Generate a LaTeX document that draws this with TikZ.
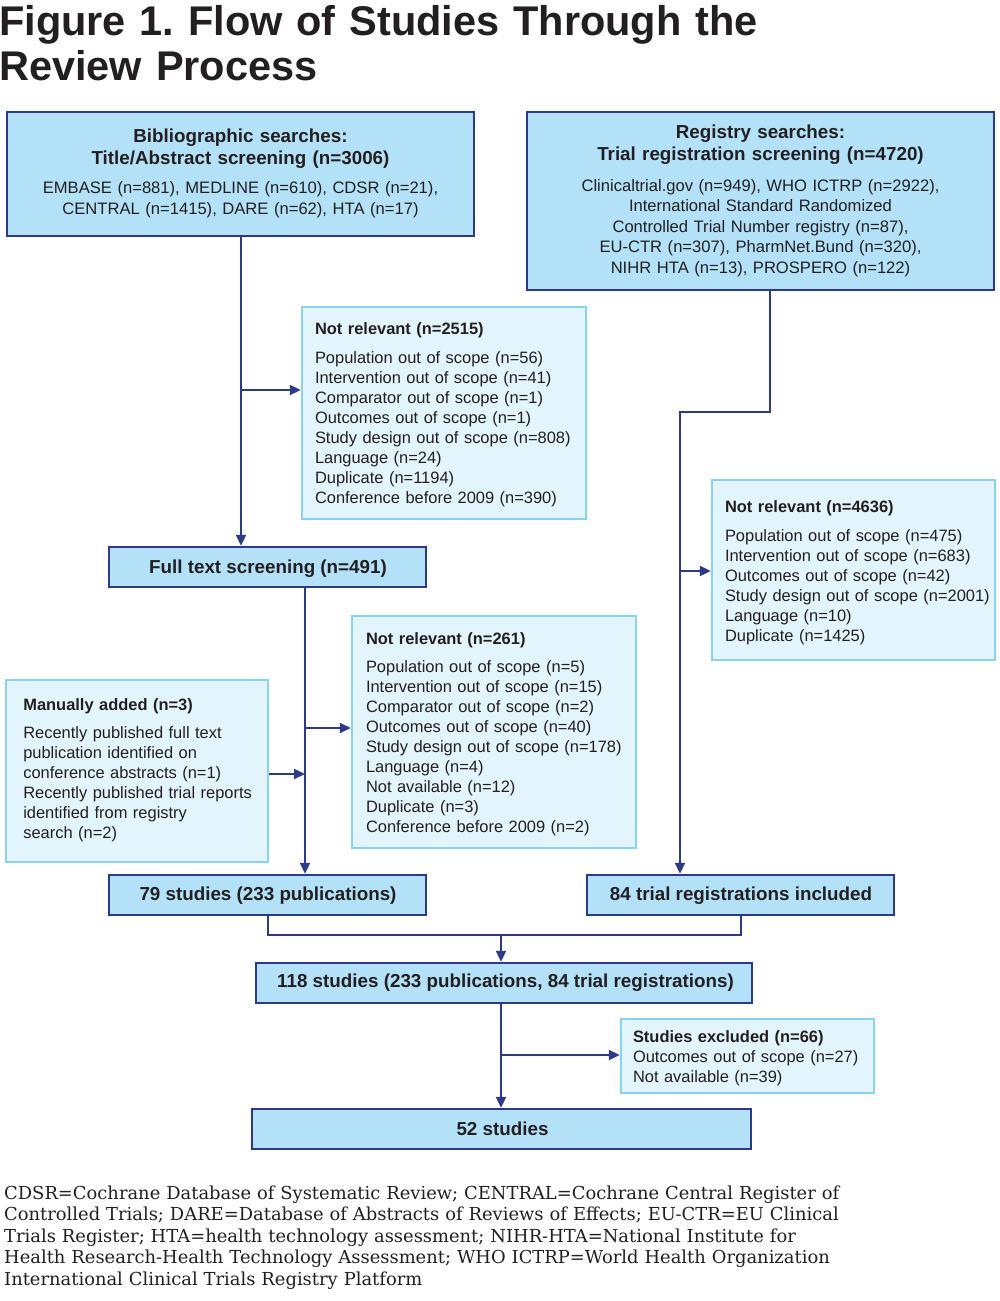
\documentclass[tikz,border=0pt]{standalone}
\usepackage{fontspec}
\setmainfont{Liberation Sans}
\newfontfamily\notefont{DejaVu Serif}
\usetikzlibrary{arrows.meta}
\definecolor{navy}{HTML}{2D3891}
\definecolor{darkfill}{HTML}{B3E2F8}
\definecolor{lightfill}{HTML}{E2F4FC}
\definecolor{lightedge}{HTML}{86D3F3}
\definecolor{ink}{HTML}{231F20}
\frenchspacing
\begin{document}
\begin{tikzpicture}[x=1pt,y=-1pt,
  darkbox/.style={draw=navy, line width=2.4pt, fill=darkfill, inner sep=0pt},
  lightbox/.style={draw=lightedge, line width=2.4pt, fill=lightfill, inner sep=0pt},
  conn/.style={draw=navy, line width=2pt},
  arr/.style={conn, -{Triangle[length=11pt,width=10pt]}},
  body/.style={inner sep=0pt, outer sep=0pt, text=ink, font=\fontsize{16.45}{20}\selectfont},
  head/.style={inner sep=0pt, outer sep=0pt, text=ink, font=\fontsize{18.8}{22}\selectfont\bfseries},
  ctext/.style={align=center, anchor=base},
  ltext/.style={align=left, anchor=base west},
]
\useasboundingbox (0,0) rectangle (1000,1301);

% title
\node[inner sep=0pt, anchor=base west, text=ink, font=\fontsize{41.5}{45}\selectfont\bfseries, align=left, text width=900pt] (title) at (-1,35) {Figure 1. Flow of Studies Through the\\Review Process};

% boxes
\node[darkbox, minimum width=467pt, minimum height=124pt] (bib) at (240.5,174) {};
\node[darkbox, minimum width=467pt, minimum height=178pt] (reg) at (760.5,201) {};
\node[lightbox, minimum width=284pt, minimum height=212pt] (nr1) at (444,413) {};
\node[darkbox, minimum width=317pt, minimum height=40pt] (full) at (267.5,567) {};
\node[lightbox, minimum width=283pt, minimum height=180pt] (nr2) at (853.5,570) {};
\node[lightbox, minimum width=284pt, minimum height=232pt] (nr3) at (494,732) {};
\node[lightbox, minimum width=262pt, minimum height=182pt] (man) at (137,771) {};
\node[darkbox, minimum width=317pt, minimum height=40pt] (s79) at (267.5,895) {};
\node[darkbox, minimum width=307pt, minimum height=40pt] (t84) at (740.5,895) {};
\node[darkbox, minimum width=496pt, minimum height=40pt] (s118) at (504,983) {};
\node[lightbox, minimum width=253pt, minimum height=74pt] (exc) at (747.5,1056) {};
\node[darkbox, minimum width=499pt, minimum height=40pt] (s52) at (501.5,1129) {};

% texts
\node[head, ctext, text width=460pt] (bibhead) at (240.5,142) {Bibliographic searches:\\Title/Abstract screening (n=3006)};
\node[body, ctext, text width=460pt, font=\fontsize{16.6}{21.5}\selectfont] (bibbody) at (240.5,193.3) {EMBASE (n=881), MEDLINE (n=610), CDSR (n=21),\\CENTRAL (n=1415), DARE (n=62), HTA (n=17)};

\node[head, ctext, text width=460pt] (reghead) at (760.5,138) {Registry searches:\\Trial registration screening (n=4720)};
\node[body, ctext, text width=460pt, font=\fontsize{16.6}{20.5}\selectfont] (regbody) at (760.5,191) {Clinicaltrial.gov (n=949), WHO ICTRP (n=2922),\\International Standard Randomized\\Controlled Trial Number registry (n=87),\\EU-CTR (n=307), PharmNet.Bund (n=320),\\NIHR HTA (n=13), PROSPERO (n=122)};

\node[body, ltext, text width=280pt] (nr1text) at (315,334) {\textbf{Not relevant (n=2515)}\\[9pt]Population out of scope (n=56)\\Intervention out of scope (n=41)\\Comparator out of scope (n=1)\\Outcomes out of scope (n=1)\\Study design out of scope (n=808)\\Language (n=24)\\Duplicate (n=1194)\\Conference before 2009 (n=390)};

\node[body, ltext, text width=280pt] (nr2text) at (725,512.7) {\textbf{Not relevant (n=4636)}\\[9pt]Population out of scope (n=475)\\Intervention out of scope (n=683)\\Outcomes out of scope (n=42)\\Study design out of scope (n=2001)\\Language (n=10)\\Duplicate (n=1425)};

\node[body, ltext, text width=280pt] (nr3text) at (366,644.3) {\textbf{Not relevant (n=261)}\\[8.4pt]Population out of scope (n=5)\\Intervention out of scope (n=15)\\Comparator out of scope (n=2)\\Outcomes out of scope (n=40)\\Study design out of scope (n=178)\\Language (n=4)\\Not available (n=12)\\Duplicate (n=3)\\Conference before 2009 (n=2)};

\node[body, ltext, text width=250pt] (mantext) at (23.3,710.7) {\textbf{Manually added (n=3)}\\[7.6pt]Recently published full text\\publication identified on\\conference abstracts (n=1)\\Recently published trial reports\\identified from registry\\search (n=2)};

\node[body, ltext, text width=245pt] (exctext) at (633,1042.3) {\textbf{Studies excluded (n=66)}\\Outcomes out of scope (n=27)\\Not available (n=39)};

\node[head, ctext] (fulltext) at (268,573) {Full text screening (n=491)};
\node[head, ctext] (s79text) at (268,900) {79 studies (233 publications)};
\node[head, ctext] (t84text) at (741,900) {84 trial registrations included};
\node[head, ctext] (s118text) at (505.5,987.3) {118 studies (233 publications, 84 trial registrations)};
\node[head, ctext] (s52text) at (502.5,1135) {52 studies};

% connectors
\coordinate (j1) at (241,390);
\draw[arr] (bib.south -| j1) -- (full.north -| j1);
\draw[arr] (j1) -- (nr1.west |- j1);

\coordinate (r1) at (770,412);
\coordinate (r2) at (680,412);
\coordinate (r3) at (680,571);
\draw[arr] (reg.south -| r1) -- (r1) -- (r2) -- (t84.north -| r2);
\draw[arr] (r3) -- (nr2.west |- r3);

\coordinate (f1) at (305,728);
\coordinate (f2) at (305,774);
\draw[arr] (full.south -| f1) -- (s79.north -| f1);
\draw[arr] (f1) -- (nr3.west |- f1);
\draw[arr] (man.east |- f2) -- (f2);

\coordinate (m1) at (268,935);
\coordinate (m2) at (741,935);
\coordinate (m3) at (501,935);
\draw[conn] (s79.south -| m1) -- (m1) -- (m2) -- (t84.south -| m2);
\draw[arr] (m3) -- (s118.north -| m3);

\coordinate (e1) at (501,1055);
\draw[arr] (s118.south -| e1) -- (s52.north -| e1);
\draw[arr] (e1) -- (exc.west |- e1);

% footnote
\node[inner sep=0pt, anchor=base west, text=ink, font=\notefont\fontsize{17.9}{21.6}\selectfont, align=left, text width=995pt] (note) at (4,1199) {CDSR=Cochrane Database of Systematic Review; CENTRAL=Cochrane Central Register of\\Controlled Trials; DARE=Database of Abstracts of Reviews of Effects; EU-CTR=EU Clinical\\Trials Register; HTA=health technology assessment; NIHR-HTA=National Institute for\\Health Research-Health Technology Assessment; WHO ICTRP=World Health Organization\\International Clinical Trials Registry Platform};
\end{tikzpicture}
\end{document}
